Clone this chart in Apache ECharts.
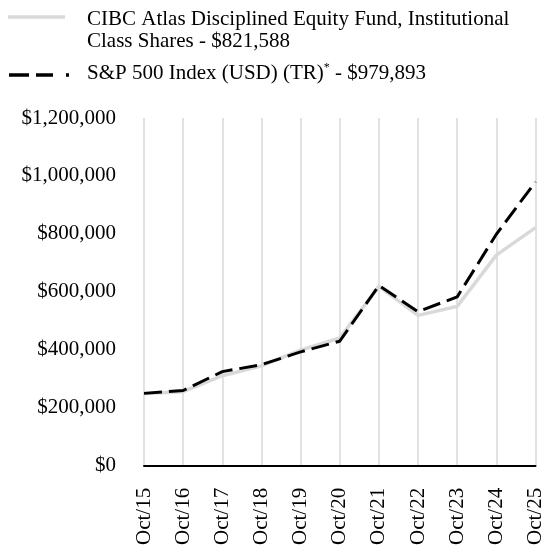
<!DOCTYPE html>
<html>
<head>
<meta charset="utf-8">
<script src="https://cdn.jsdelivr.net/npm/echarts@6/dist/echarts.min.js"></script>
<style>
html,body{margin:0;padding:0;background:#fff;}
#chart{width:546px;height:548px;}
</style>
</head>
<body>
<div id="chart"></div>
<script>
var categories = ['Oct/15','Oct/16','Oct/17','Oct/18','Oct/19','Oct/20','Oct/21','Oct/22','Oct/23','Oct/24','Oct/25'];
var fundName = 'CIBC Atlas Disciplined Equity Fund, Institutional Class Shares';
var fundValues = [250000, 256000, 311000, 345000, 399000, 441000, 619000, 519000, 550000, 727000, 821588];
var indexName = 'S&P 500 Index (USD) (TR)';
var indexValues = [250000, 260000, 325000, 349000, 393000, 430000, 622000, 532000, 583000, 799000, 979893];
var yTicks = [0, 200000, 400000, 600000, 800000, 1000000, 1200000];

var FONT = '"Liberation Serif", "Times New Roman", serif';
var GRAY = '#d9d9d9';
function money(v){ return '$' + Math.round(v).toLocaleString('en-US'); }

var chart = echarts.init(document.getElementById('chart'), null, {renderer:'canvas'});
chart.setOption({
  backgroundColor: '#fff',
  animation: false,
  grid: {left:144, right:8, top:118, bottom:80, containLabel:false},
  xAxis: {
    type: 'category',
    data: categories,
    boundaryGap: false,
    axisLine: {show:true, lineStyle:{color:'#000', width:2}},
    axisTick: {show:false},
    axisLabel: {rotate:90, margin:22, interval:0, color:'#000', fontFamily:FONT, fontSize:21},
    splitLine: {show:true, interval:0, lineStyle:{color:GRAY, width:1.5}}
  },
  yAxis: {
    type: 'value',
    min: yTicks[0],
    max: yTicks[yTicks.length-1],
    interval: yTicks[1]-yTicks[0],
    axisLine: {show:false},
    axisTick: {show:false},
    splitLine: {show:false},
    axisLabel: {margin:28, color:'#000', fontFamily:FONT, fontSize:21, formatter: function(v){return money(v);}}
  },
  series: [
    {name: fundName, type:'line', data: fundValues, symbol:'none', z:2,
     lineStyle:{color:GRAY, width:3.5}},
    {name: indexName, type:'line', data: indexValues, symbol:'none', z:3,
     lineStyle:{color:'#000', width:3, type:[18,7]}}
  ],
  graphic: [
    {type:'line', shape:{x1:8, y1:17, x2:65, y2:17}, style:{stroke:GRAY, lineWidth:3.5}},
    {type:'text', left:87, top:8, style:{
      text: 'CIBC Atlas Disciplined Equity Fund, Institutional\nClass Shares - ' + money(fundValues[fundValues.length-1]),
      font: '21px ' + FONT, fill:'#000', lineHeight:22}},
    {type:'line', shape:{x1:9, y1:75, x2:69, y2:75}, style:{stroke:'#000', lineWidth:3.5, lineDash:[20,7,17,13,3,40]}},
    {type:'text', left:87, top:62, style:{
      text: '{n|' + indexName + '}{s|*}{n| - ' + money(indexValues[indexValues.length-1]) + '}',
      rich: {
        n: {fontFamily:FONT, fontSize:21, fill:'#000', color:'#000', verticalAlign:'bottom', lineHeight:22},
        s: {fontFamily:FONT, fontSize:12, fill:'#000', color:'#000', verticalAlign:'top', lineHeight:22, padding:[0,0,9,0]}
      }}}
  ]
});
</script>
</body>
</html>
